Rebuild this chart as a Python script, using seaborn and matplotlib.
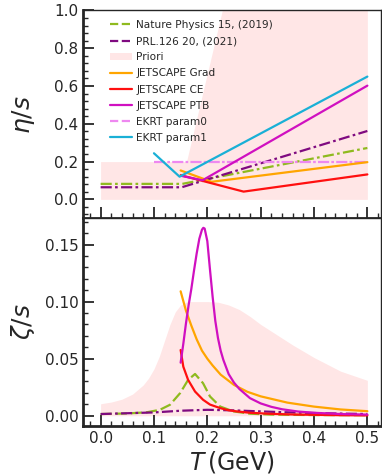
import numpy as np
import matplotlib
matplotlib.use("Agg")
import matplotlib.pyplot as plt
import seaborn as sns
from matplotlib.lines import Line2D
from matplotlib.patches import Patch
from matplotlib.ticker import MultipleLocator

# --- eta/s (top panel) ---
T_nature_eta = [0.0, 0.153, 0.5]
eta_nature = [0.082, 0.082, 0.272]
T_prl_eta = [0.0, 0.152, 0.5]
eta_prl = [0.064, 0.064, 0.362]
T_prior_eta = [0.0, 0.161, 0.228, 0.5]
eta_prior_hi = [0.2, 0.2, 1.0, 1.0]
T_grad_eta = [0.15, 0.208, 0.5]
eta_grad = [0.153, 0.093, 0.197]
T_ce_eta = [0.15, 0.268, 0.5]
eta_ce = [0.128, 0.041, 0.132]
T_ptb_eta = [0.152, 0.191, 0.5]
eta_ptb = [0.124, 0.101, 0.602]
T_ekrt0_eta = [0.1, 0.5]
eta_ekrt0 = [0.199, 0.199]
T_ekrt1_eta = [0.1, 0.148, 0.5]
eta_ekrt1 = [0.244, 0.12, 0.65]

# --- zeta/s (bottom panel) ---
T_prior_zeta = [0.0, 0.02, 0.04, 0.06, 0.08, 0.09, 0.1, 0.11, 0.12, 0.13, 0.14, 0.15,
                0.16, 0.17, 0.2, 0.22, 0.24, 0.26, 0.28, 0.3, 0.33, 0.36, 0.4, 0.45, 0.5]
zeta_prior_hi = [0.0105, 0.012, 0.0145, 0.019, 0.027, 0.033, 0.041, 0.052, 0.066, 0.08, 0.091, 0.097,
                 0.0995, 0.1, 0.1, 0.0995, 0.097, 0.093, 0.087, 0.08, 0.071, 0.062, 0.051, 0.039, 0.031]

T_nature_zeta = [0.0, 0.05, 0.086, 0.111, 0.13, 0.149, 0.164, 0.177, 0.192, 0.205,
                 0.224, 0.249, 0.28, 0.32, 0.4, 0.5]
zeta_nature = [0.0015, 0.002, 0.003, 0.0052, 0.0096, 0.0198, 0.0314, 0.0366, 0.0285, 0.0169,
               0.0081, 0.0038, 0.0018, 0.001, 0.0006, 0.0005]

T_prl_zeta = [0.0, 0.05, 0.1, 0.15, 0.2, 0.25, 0.3, 0.35, 0.4, 0.45, 0.5]
zeta_prl = [0.0015, 0.0022, 0.0029, 0.0044, 0.0052, 0.0047, 0.0038, 0.003, 0.0024, 0.0019, 0.0015]

T_grad_zeta = [0.15, 0.16, 0.17, 0.18, 0.19, 0.2, 0.21, 0.225, 0.25, 0.275, 0.3,
               0.35, 0.4, 0.45, 0.5]
zeta_grad = [0.109, 0.092, 0.079, 0.067, 0.057, 0.05, 0.044, 0.036, 0.027, 0.021, 0.017,
             0.0115, 0.008, 0.0055, 0.004]

T_ce_zeta = [0.15, 0.155, 0.164, 0.177, 0.192, 0.205, 0.224, 0.24, 0.255, 0.28, 0.318,
             0.36, 0.4, 0.45, 0.5]
zeta_ce = [0.0576, 0.043, 0.0314, 0.0212, 0.014, 0.0098, 0.0067, 0.0048, 0.0038, 0.0026, 0.0017,
           0.0011, 0.0008, 0.0005, 0.0003]

T_ptb_zeta = [0.15, 0.155, 0.16, 0.165, 0.17, 0.175, 0.18, 0.185, 0.19, 0.1925, 0.195,
              0.2, 0.205, 0.21, 0.215, 0.22, 0.225, 0.23, 0.24, 0.25, 0.26, 0.28, 0.3,
              0.32, 0.34, 0.37, 0.4, 0.45, 0.5]
zeta_ptb = [0.0465, 0.063, 0.081, 0.097, 0.111, 0.127, 0.142, 0.155, 0.163, 0.1646, 0.164,
            0.153, 0.128, 0.104, 0.083, 0.068, 0.057, 0.049, 0.0365, 0.029, 0.0235, 0.0154, 0.0108,
            0.0078, 0.0057, 0.0037, 0.0026, 0.0015, 0.001]

labels = ["Nature Physics 15, (2019)", "PRL.126 20, (2021)", "Priori", "JETSCAPE Grad",
          "JETSCAPE CE", "JETSCAPE PTB", "EKRT param0", "EKRT param1"]

# colours
C_NAT = "#8fba1e"
C_PRL = "#7f0a80"
C_PRI = "#ffe6e6"
C_GRAD = "#ffa500"
C_CE = "#ff1010"
C_PTB = "#d010c0"
C_EK0 = "#ee88f0"
C_EK1 = "#1ab0d6"

sns.set_style("ticks")
plt.rcParams['font.family'] = ['DejaVu Sans']
plt.rcParams['mathtext.fontset'] = 'dejavusans'

fig, (ax1, ax2) = plt.subplots(2, 1, figsize=(3.82, 4.76), dpi=100, sharex=True)
fig.subplots_adjust(left=0.218, right=0.9966, top=0.978, bottom=0.105, hspace=0)

LW = 1.6
DASHDOT = (0, (5, 1.5, 1.2, 1.5))

# top panel
ax1.fill_between(T_prior_eta, 0, eta_prior_hi, color=C_PRI, lw=0, zorder=0)
sns.lineplot(x=T_nature_eta, y=eta_nature, ax=ax1, color=C_NAT, lw=LW, linestyle=DASHDOT)
sns.lineplot(x=T_prl_eta, y=eta_prl, ax=ax1, color=C_PRL, lw=LW, linestyle=DASHDOT)
sns.lineplot(x=T_ekrt0_eta, y=eta_ekrt0, ax=ax1, color=C_EK0, lw=LW, linestyle=(0, (5, 1.0, 1.2, 1.0)))
sns.lineplot(x=T_grad_eta, y=eta_grad, ax=ax1, color=C_GRAD, lw=LW)
sns.lineplot(x=T_ce_eta, y=eta_ce, ax=ax1, color=C_CE, lw=LW)
sns.lineplot(x=T_ptb_eta, y=eta_ptb, ax=ax1, color=C_PTB, lw=LW)
sns.lineplot(x=T_ekrt1_eta, y=eta_ekrt1, ax=ax1, color=C_EK1, lw=LW)

# bottom panel
ax2.fill_between(T_prior_zeta, 0, zeta_prior_hi, color=C_PRI, lw=0, zorder=0)
sns.lineplot(x=T_nature_zeta, y=zeta_nature, ax=ax2, color=C_NAT, lw=LW, linestyle=(0, (5, 1.8)))
sns.lineplot(x=T_prl_zeta, y=zeta_prl, ax=ax2, color=C_PRL, lw=LW, linestyle=DASHDOT)
sns.lineplot(x=T_grad_zeta, y=zeta_grad, ax=ax2, color=C_GRAD, lw=LW)
sns.lineplot(x=T_ce_zeta, y=zeta_ce, ax=ax2, color=C_CE, lw=LW)
sns.lineplot(x=T_ptb_zeta, y=zeta_ptb, ax=ax2, color=C_PTB, lw=LW)

ax1.set_xlim(-0.0325, 0.525)
ax1.set_ylim(-0.1, 1.0)
ax2.set_ylim(-0.009, 0.173)

ax1.yaxis.set_major_locator(MultipleLocator(0.2))
ax1.yaxis.set_minor_locator(MultipleLocator(0.04))
ax2.yaxis.set_major_locator(MultipleLocator(0.05))
ax2.yaxis.set_minor_locator(MultipleLocator(0.01))
ax2.xaxis.set_major_locator(MultipleLocator(0.1))
ax2.xaxis.set_minor_locator(MultipleLocator(0.02))

for ax in (ax1, ax2):
    ax.tick_params(which='both', direction='in', top=False, right=False, labelsize=11)
    ax.tick_params(which='major', length=8, width=1.3)
    ax.tick_params(which='minor', length=3.5, width=1.0)
    for side in ('left', 'bottom'):
        ax.spines[side].set_linewidth(2.0)
    for side in ('top', 'right'):
        ax.spines[side].set_linewidth(1.0)
ax1.tick_params(labelbottom=False)

ax1.set_ylabel(r'$\eta/s$', fontsize=18)
ax2.set_ylabel(r'$\zeta/s$', fontsize=18)
ax2.set_xlabel(r'$T\,$(GeV)', fontsize=17, labelpad=2)
ax1.yaxis.set_label_coords(-0.155, 0.5)
ax2.yaxis.set_label_coords(-0.155, 0.5)

handles = [
    Line2D([], [], color=C_NAT, lw=LW, linestyle='--'),
    Line2D([], [], color=C_PRL, lw=LW, linestyle='--'),
    Patch(facecolor=C_PRI, edgecolor='none'),
    Line2D([], [], color=C_GRAD, lw=LW),
    Line2D([], [], color=C_CE, lw=LW),
    Line2D([], [], color=C_PTB, lw=LW),
    Line2D([], [], color=C_EK0, lw=LW, linestyle='--'),
    Line2D([], [], color=C_EK1, lw=LW),
]
ax1.legend(handles, labels, loc='upper left', bbox_to_anchor=(0.076, 0.974),
           borderaxespad=0, frameon=False, fontsize=7.6, handlelength=2.1,
           handletextpad=0.4, labelspacing=0.58)

plt.savefig("out.png", dpi=100)
